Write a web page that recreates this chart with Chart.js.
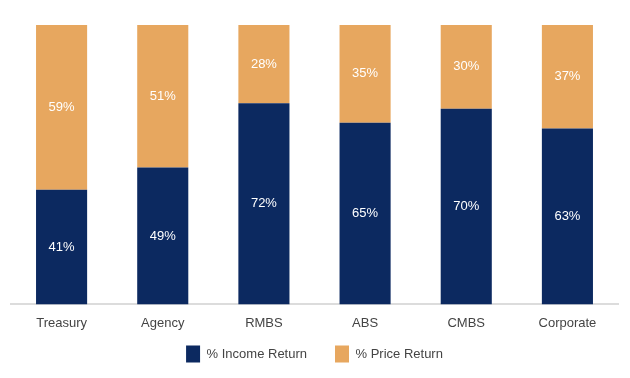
<!DOCTYPE html>
<html><head><meta charset="utf-8">
<script src="https://cdn.jsdelivr.net/npm/chart.js@4"></script>
<style>html,body{margin:0;padding:0;background:#fff}#w{width:630px;height:378px}</style>
</head><body><div id="w"><canvas id="c"></canvas></div>
<script>
const categories = ["Treasury","Agency","RMBS","ABS","CMBS","Corporate"];
const incomeReturn = [41,49,72,65,70,63];
const priceReturn = [59,51,28,35,30,37];
const seriesNames = ["% Income Return","% Price Return"];

const FONT = '"Liberation Sans", Arial, sans-serif';
const labelPlugin = {
  id:'inlabels',
  afterDatasetsDraw(chart){
    const ctx = chart.ctx;
    ctx.save();
    ctx.fillStyle = '#ffffff';
    ctx.font = '13px ' + FONT;
    ctx.textAlign = 'center';
    ctx.textBaseline = 'middle';
    chart.data.datasets.forEach((ds,i)=>{
      chart.getDatasetMeta(i).data.forEach((bar,j)=>{
        const y = (bar.y + bar.base)/2;
        ctx.fillText(ds.data[j] + '%', bar.x, y);
      });
    });
    ctx.restore();
  }
};

// keep wide horizontal gaps between legend items while keeping the legend compact vertically
const legendTweak = {
  id:'legendTweak',
  afterInit(chart){
    const lg = chart.legend;
    if (!lg || lg._patched) return;
    const orig = lg.fit;
    lg.fit = function(){ orig.call(this); this.height = 44; };
    lg._patched = true;
  },
  afterLayout(chart){
    const lg = chart.legend;
    if (lg) { lg.top -= 16.5; lg.bottom = lg.top + 50; lg.height = 50; }
  }
};

new Chart(document.getElementById('c'), {
  type:'bar',
  data:{
    labels:categories,
    datasets:[
      {label:seriesNames[0], data:incomeReturn, backgroundColor:'#0c2960', categoryPercentage:1, barPercentage:0.505},
      {label:seriesNames[1], data:priceReturn, backgroundColor:'#e7a75f', categoryPercentage:1, barPercentage:0.505}
    ]
  },
  options:{
    responsive:true, maintainAspectRatio:false, animation:false,
    layout:{padding:{left:11,right:12,top:25,bottom:0}},
    plugins:{
      tooltip:{enabled:false},
      legend:{position:'bottom', labels:{boxWidth:14, boxHeight:17, padding:28, color:'#444', font:{size:13, family:FONT}}}
    },
    scales:{
      x:{stacked:true, grid:{display:false}, border:{display:true,color:'#dcdcdc',width:2},
         ticks:{color:'#444', padding:3, font:{size:13, family:FONT}}},
      y:{stacked:true, min:0, max:100, display:false}
    }
  },
  plugins:[labelPlugin, legendTweak]
});
</script></body></html>
